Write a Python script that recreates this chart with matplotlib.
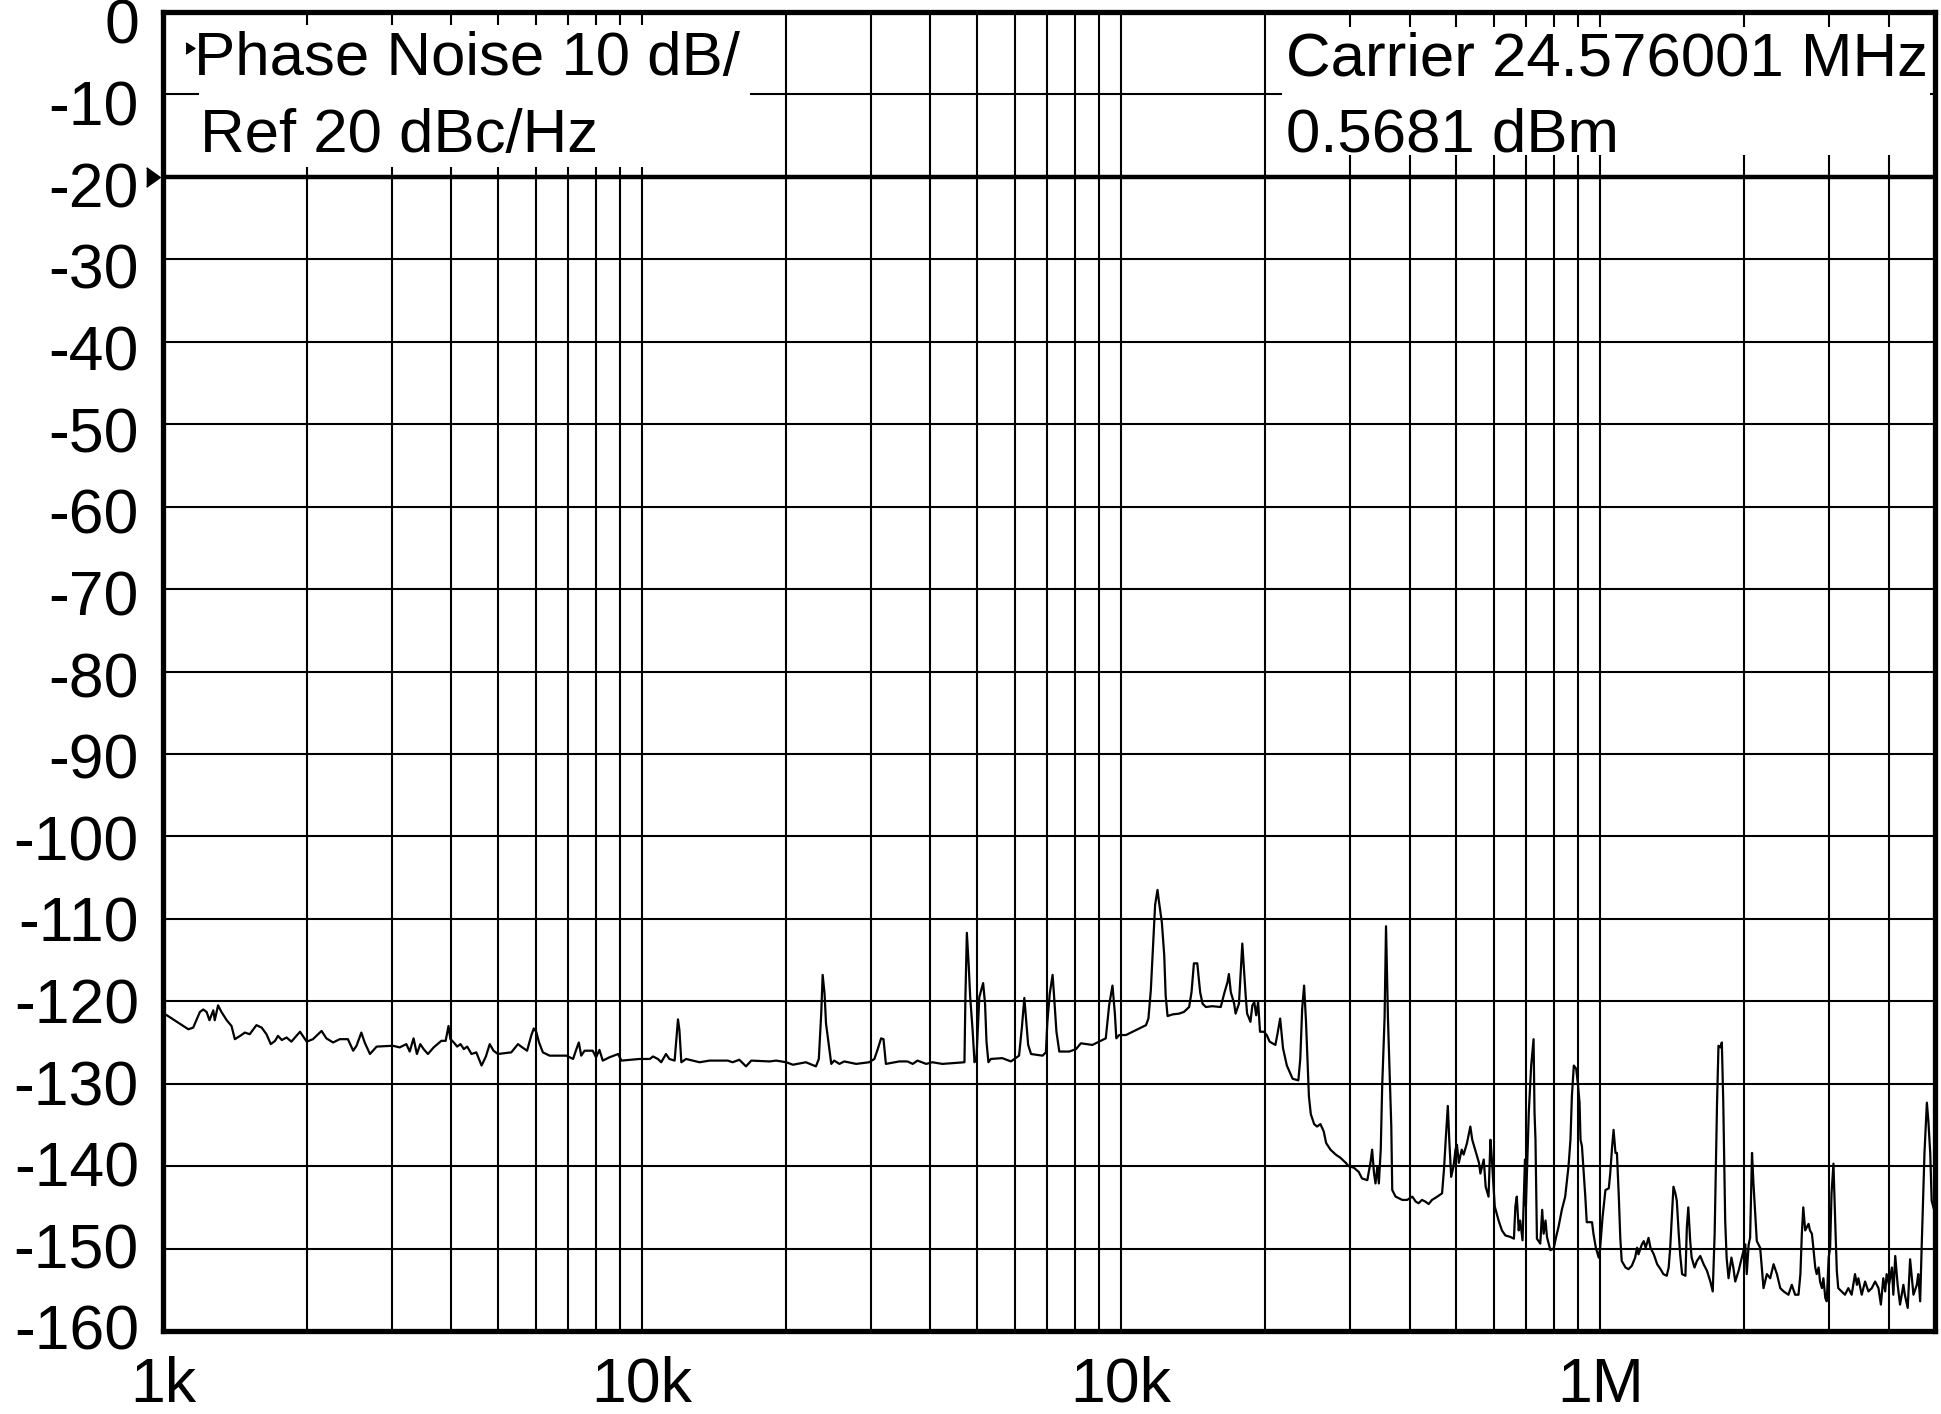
import numpy as np
import matplotlib
matplotlib.use("Agg")
import matplotlib.pyplot as plt
from matplotlib.ticker import FixedLocator, LogLocator, NullFormatter
from matplotlib.patches import Rectangle
import matplotlib.transforms as mtransforms

# ---------------- data (offset frequency as log10(Hz), phase noise in dBc/Hz) ----------------
logf_1k_10k = [
    3.000, 3.008, 3.029, 3.053, 3.063, 3.077, 3.084, 3.091, 3.097, 3.105, 3.108, 3.115, 3.122,
    3.133, 3.143, 3.150, 3.161, 3.171, 3.181, 3.195, 3.206, 3.216, 3.225, 3.234, 3.240, 3.248,
    3.258, 3.268, 3.286, 3.300, 3.313, 3.331, 3.341, 3.355, 3.369, 3.386, 3.397, 3.404, 3.414,
    3.421, 3.432, 3.446, 3.480, 3.494, 3.508, 3.515, 3.523, 3.530, 3.537, 3.544, 3.553, 3.565,
    3.581, 3.590, 3.596, 3.600, 3.607, 3.614, 3.621, 3.628, 3.635, 3.644, 3.654, 3.665, 3.674,
    3.682, 3.690, 3.699, 3.713, 3.727, 3.741, 3.750, 3.760, 3.769, 3.774, 3.779, 3.785, 3.793,
    3.807, 3.842, 3.856, 3.863, 3.868, 3.873, 3.880, 3.897, 3.904, 3.911, 3.918, 3.932, 3.950,
    3.957, 3.995]
pn_1k_10k = [
    -121.5, -121.7, -122.5, -123.4, -123.2, -121.3, -121.0, -121.3, -122.3, -121.1, -122.3, -120.5, -121.3,
    -122.3, -123.0, -124.6, -124.2, -123.8, -124.0, -122.9, -123.2, -124.0, -125.2, -124.8, -124.2, -124.7,
    -124.4, -124.9, -123.7, -124.9, -124.6, -123.6, -124.5, -125.0, -124.6, -124.6, -126.0, -125.4, -123.8,
    -125.0, -126.4, -125.5, -125.4, -125.6, -125.2, -126.1, -124.5, -126.4, -125.2, -125.8, -126.4, -125.6,
    -124.8, -124.8, -123.0, -124.6, -125.0, -125.5, -125.2, -125.8, -125.5, -126.4, -126.2, -127.8, -126.7,
    -125.2, -126.0, -126.4, -126.3, -126.2, -125.2, -125.6, -126.0, -124.1, -123.3, -123.7, -125.0, -126.2,
    -126.6, -126.6, -127.0, -125.8, -125.0, -126.6, -126.0, -126.0, -126.8, -125.9, -127.2, -126.8, -126.4,
    -127.2, -127.0]

logf_10k_100k = [
    4.016, 4.023, 4.033, 4.040, 4.050, 4.057, 4.068, 4.075, 4.078, 4.082, 4.092, 4.120, 4.141,
    4.179, 4.189, 4.203, 4.217, 4.228, 4.266, 4.280, 4.301, 4.315, 4.342, 4.363, 4.369, 4.374,
    4.377, 4.381, 4.384, 4.390, 4.395, 4.401, 4.412, 4.422, 4.447, 4.474, 4.485, 4.492, 4.499,
    4.504, 4.509, 4.537, 4.554, 4.565, 4.575, 4.593, 4.606, 4.627, 4.673, 4.675, 4.678, 4.682,
    4.685, 4.690, 4.694, 4.698, 4.704, 4.712, 4.716, 4.719, 4.723, 4.728, 4.752, 4.770, 4.787,
    4.793, 4.798, 4.801, 4.806, 4.812, 4.836, 4.843, 4.846, 4.851, 4.857, 4.860, 4.865, 4.871,
    4.892, 4.906, 4.916, 4.940, 4.954, 4.968, 4.975, 4.982, 4.987, 4.990, 4.996]
pn_10k_100k = [
    -127.0, -126.7, -127.0, -127.4, -126.4, -127.0, -127.2, -122.2, -123.5, -127.4, -127.0, -127.4, -127.2,
    -127.2, -127.4, -127.1, -127.9, -127.2, -127.3, -127.2, -127.4, -127.7, -127.4, -127.9, -127.0, -121.5,
    -116.8, -119.1, -122.7, -125.4, -127.6, -127.2, -127.6, -127.3, -127.6, -127.4, -127.0, -125.8, -124.5,
    -124.6, -127.6, -127.3, -127.3, -127.6, -127.2, -127.6, -127.4, -127.6, -127.4, -119.5, -111.7, -115.8,
    -119.5, -123.5, -127.4, -127.0, -119.5, -117.8, -120.3, -124.9, -127.4, -127.0, -126.9, -127.3, -126.6,
    -123.1, -119.6, -121.7, -125.3, -126.4, -126.6, -126.2, -122.6, -119.1, -116.8, -119.3, -123.7, -126.1,
    -126.1, -125.8, -125.1, -125.3, -124.9, -124.5, -120.5, -118.1, -121.5, -124.5, -124.1]

logf_100k_1m = [
    5.010, 5.024, 5.038, 5.052, 5.057, 5.062, 5.067, 5.071, 5.076, 5.079, 5.085, 5.090, 5.093,
    5.097, 5.107, 5.121, 5.131, 5.142, 5.147, 5.152, 5.159, 5.165, 5.170, 5.177, 5.190, 5.208,
    5.215, 5.222, 5.225, 5.229, 5.236, 5.239, 5.246, 5.253, 5.257, 5.260, 5.263, 5.266, 5.270,
    5.274, 5.278, 5.282, 5.286, 5.290, 5.298, 5.304, 5.310, 5.322, 5.326, 5.332, 5.338, 5.346,
    5.358, 5.370, 5.374, 5.378, 5.382, 5.386, 5.390, 5.392, 5.396, 5.403, 5.409, 5.416, 5.423,
    5.428, 5.437, 5.448, 5.458, 5.469, 5.475, 5.486, 5.496, 5.503, 5.514, 5.521, 5.524, 5.528,
    5.531, 5.535, 5.538, 5.542, 5.545, 5.550, 5.553, 5.557, 5.564, 5.566, 5.573, 5.587, 5.597,
    5.608, 5.615, 5.621, 5.628, 5.635, 5.642, 5.649, 5.660, 5.670, 5.674, 5.678, 5.682, 5.685,
    5.689, 5.694, 5.698, 5.701, 5.705, 5.711, 5.715, 5.722, 5.729, 5.733, 5.740, 5.747, 5.750,
    5.757, 5.761, 5.767, 5.771, 5.774, 5.780, 5.788, 5.795, 5.802, 5.813, 5.820, 5.823, 5.826,
    5.830, 5.833, 5.838, 5.843, 5.845, 5.851, 5.856, 5.861, 5.863, 5.865, 5.868, 5.875, 5.879,
    5.882, 5.886, 5.889, 5.896, 5.903, 5.908, 5.913, 5.920, 5.927, 5.934, 5.938, 5.941, 5.945,
    5.950, 5.954, 5.957, 5.959, 5.962, 5.969, 5.972, 5.983, 5.986, 5.991, 5.997]
pn_100k_1m = [
    -124.1, -123.7, -123.3, -122.9, -122.1, -118.7, -113.0, -108.3, -106.5, -107.9, -110.4, -114.4, -119.3,
    -121.8, -121.6, -121.5, -121.3, -120.7, -118.9, -115.4, -115.4, -118.9, -120.3, -120.7, -120.6, -120.7,
    -119.1, -117.7, -116.7, -118.9, -120.3, -121.5, -120.3, -113.0, -116.6, -119.3, -121.5, -121.9, -122.5,
    -120.5, -120.1, -121.7, -120.1, -123.7, -123.7, -124.1, -124.9, -125.3, -124.1, -122.1, -125.7, -127.8,
    -129.4, -129.6, -127.0, -120.9, -118.1, -122.5, -128.6, -131.5, -133.7, -134.9, -135.2, -134.9, -135.8,
    -137.2, -138.0, -138.6, -139.0, -139.6, -140.0, -140.2, -140.7, -141.5, -141.7, -139.4, -138.0, -140.9,
    -142.1, -140.0, -142.1, -138.0, -130.3, -122.0, -110.9, -122.0, -135.2, -142.9, -143.7, -144.1, -144.1,
    -143.7, -144.3, -144.5, -144.1, -144.3, -144.6, -144.1, -143.7, -143.3, -140.4, -136.4, -132.7, -136.8,
    -141.3, -140.0, -138.0, -137.4, -139.6, -138.0, -138.6, -137.2, -135.2, -136.8, -138.2, -139.6, -140.9,
    -139.2, -142.5, -143.7, -136.8, -139.2, -144.9, -146.6, -147.8, -148.4, -148.6, -148.8, -144.9, -143.7,
    -147.8, -146.6, -149.0, -139.2, -144.9, -133.5, -127.8, -124.6, -133.5, -136.8, -148.8, -149.4, -145.3,
    -148.2, -146.6, -148.6, -150.2, -150.0, -148.6, -147.4, -145.3, -143.7, -140.0, -136.8, -131.5, -127.8,
    -128.2, -130.3, -132.3, -136.8, -137.6, -143.7, -146.8, -146.8, -148.2, -149.9, -151.1]

logf_1m_5m = [
    6.000, 6.005, 6.011, 6.018, 6.021, 6.025, 6.028, 6.032, 6.035, 6.039, 6.042, 6.045, 6.053,
    6.059, 6.066, 6.073, 6.077, 6.080, 6.087, 6.091, 6.095, 6.101, 6.105, 6.112, 6.119, 6.126,
    6.132, 6.139, 6.143, 6.146, 6.150, 6.153, 6.157, 6.160, 6.164, 6.167, 6.171, 6.178, 6.181,
    6.184, 6.188, 6.191, 6.197, 6.202, 6.209, 6.216, 6.223, 6.230, 6.235, 6.239, 6.244, 6.247,
    6.251, 6.254, 6.257, 6.261, 6.264, 6.268, 6.274, 6.278, 6.282, 6.289, 6.294, 6.299, 6.303,
    6.306, 6.310, 6.313, 6.317, 6.320, 6.327, 6.334, 6.341, 6.348, 6.355, 6.362, 6.369, 6.376,
    6.383, 6.393, 6.400, 6.407, 6.414, 6.418, 6.421, 6.424, 6.428, 6.435, 6.438, 6.442, 6.445,
    6.449, 6.452, 6.456, 6.459, 6.463, 6.466, 6.470, 6.473, 6.477, 6.480, 6.483, 6.487, 6.491,
    6.494, 6.497, 6.504, 6.511, 6.518, 6.525, 6.532, 6.536, 6.539, 6.546, 6.553, 6.560, 6.567,
    6.574, 6.581, 6.586, 6.591, 6.595, 6.598, 6.603, 6.609, 6.612, 6.616, 6.621, 6.626, 6.633,
    6.636, 6.642, 6.647, 6.650, 6.654, 6.661, 6.664, 6.668, 6.671, 6.677, 6.682, 6.685, 6.689,
    6.692, 6.698]
pn_1m_5m = [
    -149.9, -146.2, -142.9, -142.7, -140.9, -137.6, -135.6, -138.4, -138.4, -143.8, -148.7, -151.5, -152.3,
    -152.5, -152.1, -151.1, -149.9, -150.7, -149.5, -149.1, -149.9, -148.7, -149.9, -150.7, -151.9, -152.5,
    -153.1, -153.3, -152.3, -150.1, -145.8, -142.5, -143.3, -144.2, -148.2, -150.7, -153.1, -153.3, -147.4,
    -145.0, -149.1, -151.1, -152.3, -151.5, -150.9, -151.9, -152.7, -154.0, -155.2, -148.2, -132.3, -125.4,
    -125.6, -125.0, -132.3, -146.6, -151.1, -153.6, -151.1, -152.3, -154.0, -152.7, -151.5, -150.3, -149.5,
    -153.1, -149.5, -148.7, -138.4, -142.1, -149.1, -149.9, -154.8, -153.1, -153.6, -151.9, -153.1, -154.8,
    -155.2, -155.6, -154.4, -155.6, -155.6, -153.1, -148.2, -145.0, -147.8, -147.0, -147.8, -148.2, -149.9,
    -152.3, -153.1, -152.3, -154.0, -154.8, -153.6, -156.0, -156.4, -151.1, -149.9, -143.3, -139.7, -147.4,
    -152.7, -154.8, -155.2, -155.6, -154.8, -155.6, -153.1, -154.4, -153.6, -155.6, -154.0, -155.2, -154.8,
    -154.0, -154.8, -156.8, -153.6, -155.2, -153.1, -154.4, -152.3, -155.6, -150.9, -154.4, -156.8, -154.4,
    -155.6, -157.2, -151.3, -153.1, -155.6, -154.4, -153.1, -156.4, -150.1, -138.4, -132.3, -134.4, -138.4,
    -144.2, -145.5]

x_tick_hz = [1e3, 1e4, 1e5, 1e6]
x_tick_labels = ["1k", "10k", "10k", "1M"]
x_limits_hz = [1e3, 5e6]
y_ticks = [0, -10, -20, -30, -40, -50, -60, -70, -80, -90, -100, -110, -120, -130, -140, -150, -160]
ref_level_dbc = -20
header_left = ["Phase Noise 10 dB/", "Ref 20 dBc/Hz"]
header_right = ["Carrier 24.576001 MHz", "0.5681 dBm"]

# ---------------- figure ----------------
plt.rcParams['font.family'] = ['Liberation Sans', 'DejaVu Sans']
plt.rcParams['axes.unicode_minus'] = False
FS = 45
FS_HEAD = 44.5

W, H = 1941, 1414
fig = plt.figure(figsize=(W / 100, H / 100), dpi=100)
L, R, T, B = 163, 1935, 12, 1331
ax = fig.add_axes([L / W, (H - B) / H, (R - L) / W, (B - T) / H])

logf = np.concatenate([logf_1k_10k, logf_10k_100k, logf_100k_1m, logf_1m_5m])
pn = np.concatenate([pn_1k_10k, pn_10k_100k, pn_100k_1m, pn_1m_5m])
freq = 10.0 ** logf

ax.plot(freq, pn, color='black', lw=1.6, zorder=4)
ax.set_xscale('log')
ax.set_xlim(*x_limits_hz)
ax.set_ylim(-160, 0)

ax.xaxis.set_major_locator(FixedLocator(x_tick_hz))
ax.xaxis.set_ticklabels(x_tick_labels)
ax.xaxis.set_minor_locator(LogLocator(base=10, subs=np.arange(2, 10)))
ax.xaxis.set_minor_formatter(NullFormatter())
ax.set_yticks(y_ticks)
ax.set_yticklabels([])

ax.set_axisbelow(True)
ax.grid(True, which='both', axis='x', color='black', lw=1.5)
ax.grid(True, which='major', axis='y', color='black', lw=1.5)
ax.axhline(ref_level_dbc, color='black', lw=3.2, zorder=1.2)
ax.tick_params(which='both', length=0)
ax.tick_params(axis='x', labelsize=FS, pad=18)
for s in ax.spines.values():
    s.set_linewidth(3.8)
    s.set_zorder(5)

def axy(py):
    return (B - py) / (B - T)

def axx(px):
    return (px - L) / (R - L)

# y tick labels (evenly spaced as in the reference, slightly below the grid lines at the top)
base_top, base_bot = 44, 1350
for k, v in enumerate(y_ticks):
    yb = base_top + k * (base_bot - base_top) / (len(y_ticks) - 1)
    ax.text(axx(139), axy(yb), str(v), transform=ax.transAxes, fontsize=FS,
            ha='right', va='baseline', clip_on=False)

# header boxes masking the grid
ax.add_patch(Rectangle((axx(199), axy(167)), axx(750) - axx(199), axy(25) - axy(167),
                       transform=ax.transAxes, facecolor='white', edgecolor='none', zorder=2))
ax.add_patch(Rectangle((axx(1282), axy(155)), axx(1930) - axx(1282), axy(27) - axy(155),
                       transform=ax.transAxes, facecolor='white', edgecolor='none', zorder=2))

ax.text(axx(194), axy(75), header_left[0], transform=ax.transAxes, fontsize=FS_HEAD,
        va='baseline', ha='left', zorder=6)
ax.text(axx(200), axy(152), header_left[1], transform=ax.transAxes, fontsize=FS_HEAD,
        va='baseline', ha='left', zorder=6)
ax.text(axx(1286), axy(75), header_right[0], transform=ax.transAxes, fontsize=FS_HEAD,
        va='baseline', ha='left', zorder=6)
ax.text(axx(1286), axy(152), header_right[1], transform=ax.transAxes, fontsize=FS_HEAD,
        va='baseline', ha='left', zorder=6)

# small marker before header text
tri_small = [(-0.8, -1.0), (0.8, 0.0), (-0.8, 1.0)]
ax.plot([axx(190)], [axy(48)], marker=tri_small, markersize=8, color='black',
        transform=ax.transAxes, clip_on=False, zorder=6, linestyle='none')
# reference level marker left of the axis
blend = mtransforms.blended_transform_factory(ax.transAxes, ax.transData)
tri_ref = [(-0.7, -1.0), (0.7, 0.0), (-0.7, 1.0)]
ax.plot([axx(153)], [ref_level_dbc], marker=tri_ref, markersize=14, color='black',
        transform=blend, clip_on=False, zorder=6, linestyle='none')

fig.savefig("out.png", dpi=100)
